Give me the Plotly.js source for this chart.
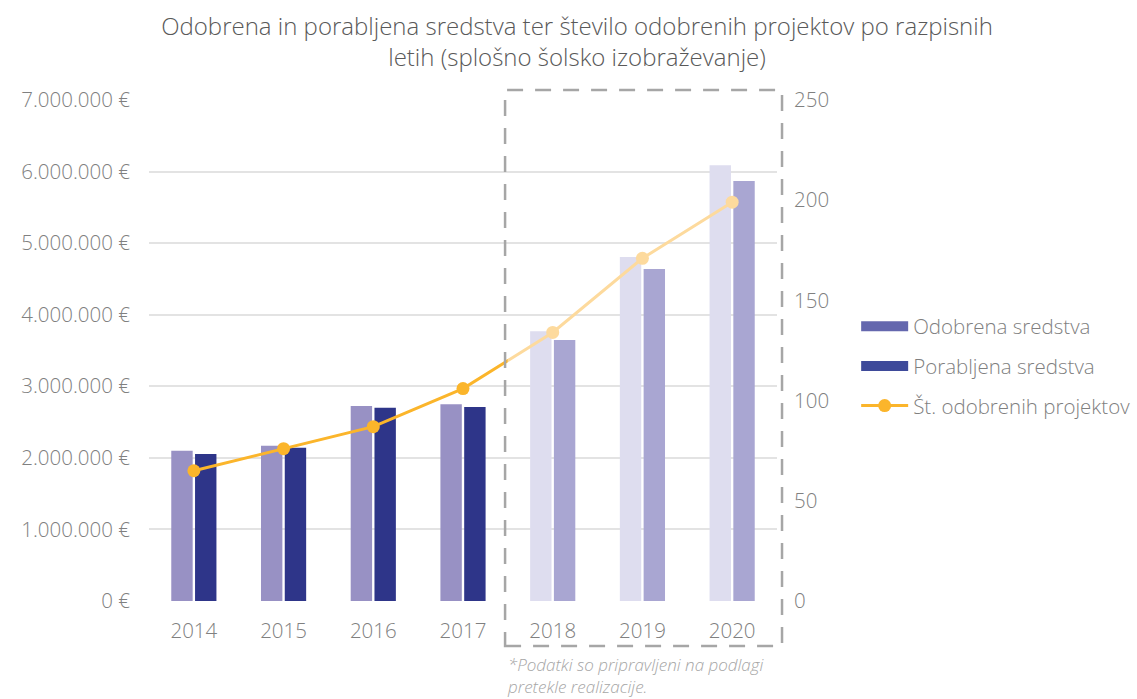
<!DOCTYPE html>
<html>
<head>
<meta charset="utf-8">
<script src="https://cdn.plot.ly/plotly-3.0.1.min.js"></script>
<style>html,body{margin:0;padding:0;background:#fff;}#chart{width:1137px;height:699px;}</style>
</head>
<body>
<div id="chart"></div>
<script>
const years = ['2014', '2015', '2016', '2017', '2018', '2019', '2020'];
const odobrena = [2100000, 2170000, 2725000, 2750000, 3770000, 4806000, 6090000];
const porabljena = [2054000, 2140000, 2700000, 2710000, 3646000, 4640000, 5870000];
const projekti = [65, 76, 87, 106, 134, 171, 199];
const realized = [true, true, true, true, false, false, false];

const FONT = '"Open Sans", Lato, sans-serif';
const odobrenaCol = realized.map(r => r ? '#9891C4' : '#DEDDEF');
const porabljenaCol = realized.map(r => r ? '#2E3589' : '#A9A6D2');

const traces = [
  {type: 'bar', x: years, y: odobrena, name: 'Odobrena sredstva', marker: {color: odobrenaCol}, showlegend: false, xaxis: 'x', yaxis: 'y', hoverinfo: 'y'},
  {type: 'bar', x: years, y: porabljena, name: 'Porabljena sredstva', marker: {color: porabljenaCol}, showlegend: false, xaxis: 'x', yaxis: 'y', hoverinfo: 'y'},
  {type: 'scatter', mode: 'lines', x: [null], y: [null], name: 'Odobrena sredstva', line: {color: '#6467AE', width: 12}, legendgroup: 'a', xaxis: 'x', yaxis: 'y'},
  {type: 'scatter', mode: 'lines', x: [null], y: [null], name: 'Porabljena sredstva', line: {color: '#3E4A9A', width: 12}, legendgroup: 'b', xaxis: 'x', yaxis: 'y'},
  {type: 'scatter', mode: 'lines+markers', x: years, y: projekti, name: 'Št. odobrenih projektov', line: {color: '#FBB52B', width: 3}, marker: {color: '#FBB52B', size: 13}, legendgroup: 'c', xaxis: 'x2', yaxis: 'y3'},
  {type: 'scatter', mode: 'lines+markers', x: years, y: projekti, name: 'Št. odobrenih projektov', line: {color: '#FDDA9D', width: 3}, marker: {color: '#FDDA9D', size: 13}, showlegend: false, xaxis: 'x3', yaxis: 'y4'}
];

const tickFont = {family: FONT, size: 20.5, color: '#808080', weight: 300};

const layout = {
  width: 1137, height: 699,
  paper_bgcolor: '#fff', plot_bgcolor: 'rgba(0,0,0,0)',
  margin: {l: 149, r: 360, t: 100, b: 98, autoexpand: false},
  separators: ',.',
  font: {family: FONT, color: '#808080'},
  title: {
    text: 'Odobrena in porabljena sredstva ter število odobrenih projektov po razpisnih<br>letih (splošno šolsko izobraževanje)',
    font: {family: FONT, size: 24, color: '#595959', weight: 300},
    x: 0.5075, xanchor: 'center', y: 0.95, yanchor: 'top', yref: 'container'
  },
  barmode: 'group', bargap: 0.47, bargroupgap: 0.1,
  xaxis: {type: 'category', range: [-0.5, 6.5], domain: [0, 1], showgrid: false, zeroline: false, showline: false, ticks: '', tickfont: tickFont, ticklabelstandoff: 15, anchor: 'y', automargin: false},
  yaxis: {range: [0, 7000000], dtick: 1000000, tickformat: ',d', ticksuffix: ' €', showgrid: true, gridcolor: '#E3E3E3', gridwidth: 2, zeroline: false, showline: false, tickfont: tickFont, ticklabelstandoff: 18, anchor: 'x', automargin: false},
  xaxis2: {type: 'category', categoryarray: years, categoryorder: 'array', domain: [0, 4/7], range: [-0.5, 3.5], visible: false, anchor: 'y3'},
  yaxis3: {domain: [0, 1], range: [0, 250], visible: false, anchor: 'x2'},
  xaxis3: {type: 'category', categoryarray: years, categoryorder: 'array', domain: [4/7, 1], range: [3.5, 6.5], visible: false, anchor: 'y4'},
  yaxis4: {domain: [0, 1], range: [0, 250], dtick: 50, side: 'right', showgrid: false, zeroline: false, showline: false, ticks: '', tickfont: tickFont, ticklabelstandoff: 16, anchor: 'x3', automargin: false},
  legend: {xref: 'container', x: 0.753, xanchor: 'left', y: 0.588, yanchor: 'top', font: {family: FONT, size: 20.5, color: '#7F7F7F', weight: 300}, traceorder: 'grouped', tracegroupgap: 10, itemwidth: 47, bgcolor: 'rgba(0,0,0,0)'},
  shapes: [{
    type: 'rect', xref: 'paper', yref: 'paper', x0: 0.567, x1: 1.008, y0: -0.09, y1: 1.02,
    line: {color: '#A6A6A6', width: 2.5, dash: '16px,12px'}, fillcolor: 'rgba(0,0,0,0)'
  }],
  annotations: [{
    text: '<i>*Podatki so pripravljeni na podlagi<br>pretekle realizacije.</i>',
    xref: 'paper', yref: 'paper', x: 0.567, y: -0.1, xanchor: 'left', yanchor: 'top', align: 'left', showarrow: false,
    font: {family: FONT, size: 17, color: '#A6A6A6', weight: 300}
  }]
};

Plotly.newPlot('chart', traces, layout, {displayModeBar: false, staticPlot: true});
</script>
</body>
</html>
